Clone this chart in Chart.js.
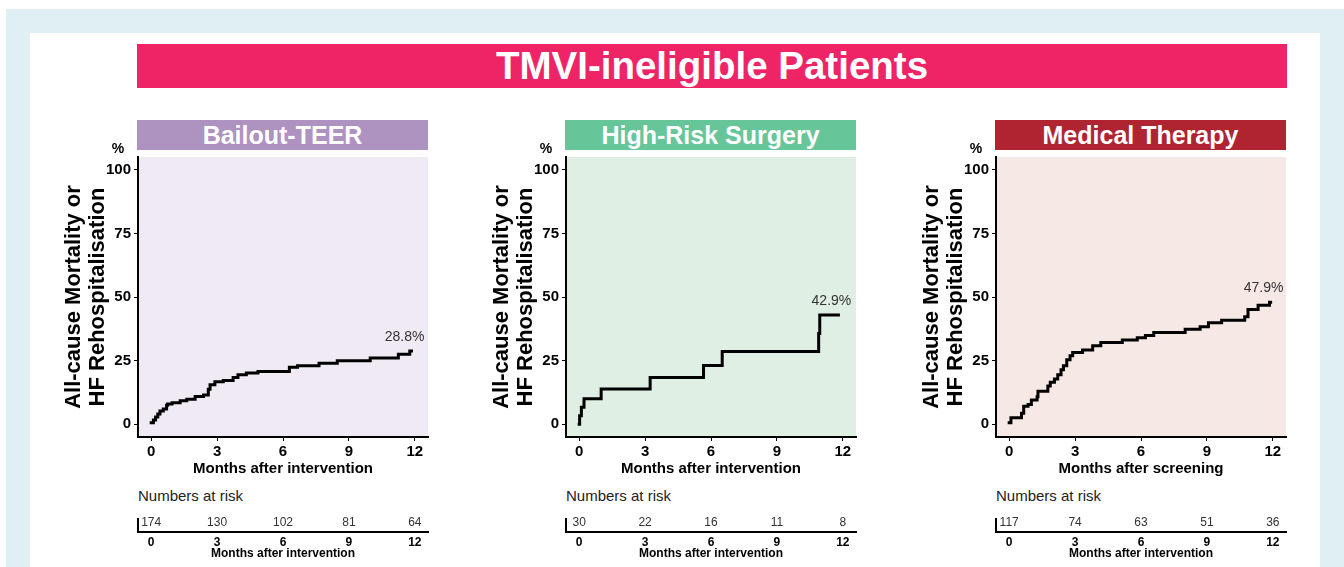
<!DOCTYPE html>
<html>
<head>
<meta charset="utf-8">
<script src="https://cdn.jsdelivr.net/npm/chart.js@4.4.1/dist/chart.umd.min.js"></script>
<style>
  html, body { margin:0; padding:0; background:#fff; }
  body { width:1344px; height:567px; position:relative; overflow:hidden; font-family:"Liberation Sans", Arial, sans-serif; }
  .abs { position:absolute; }
  #outer { left:6px; top:9px; right:0; bottom:0; background:#dfeff4; }
  #inner { left:30px; top:33px; width:1290px; bottom:0; background:#fff; }
  #banner { left:137px; top:44px; width:1150px; height:44px; background:#ee2467; color:#fff; font-weight:bold; font-size:38.5px; line-height:44px; text-align:center; }
  .hdr { top:120px; width:291px; height:30px; color:#fff; font-weight:bold; font-size:25px; line-height:31px; text-align:center; }
  .nar { top:486px; font-size:15px; color:#222; line-height:20px; }
  canvas { position:absolute; }
</style>
</head>
<body>
<div id="outer" class="abs"></div>
<div id="inner" class="abs"></div>
<div id="banner" class="abs"></div>
<div id="root"></div>
<script>
// ---------- data ----------
const mainTitle = 'TMVI-ineligible Patients';
const panelTitles = ['Bailout-TEER', 'High-Risk Surgery', 'Medical Therapy'];
const xAxisTitles = ['Months after intervention', 'Months after intervention', 'Months after screening'];
const riskAxisTitles = ['Months after intervention', 'Months after intervention', 'Months after intervention'];
const yAxisTitle = ['All-cause Mortality or', 'HF Rehospitalisation'];
const xTicks = [0, 3, 6, 9, 12];
const yTicks = [0, 25, 50, 75, 100];
const riskTimes = [0, 3, 6, 9, 12];

const teerTimes  = [0, 0.1, 0.2, 0.3, 0.4, 0.55, 0.7, 0.75, 0.95, 1.32, 1.62, 2.0, 2.38, 2.6, 2.68, 2.9, 3.28, 3.73, 3.95, 4.33, 4.86, 6.29, 6.66, 7.64, 8.47, 9.97, 11.25, 11.77, 11.85];
const teerValues = [0.6, 1.7, 2.9, 4.0, 5.2, 6.0, 7.5, 8.0, 8.5, 9.2, 9.8, 10.9, 11.5, 13.8, 15.5, 16.7, 17.2, 18.4, 19.5, 20.1, 20.7, 22.4, 23.0, 24.0, 25.0, 26.0, 27.5, 28.8, 28.8];

const surgeryTimes  = [0, 0.02, 0.1, 0.22, 1.0, 3.23, 5.66, 6.51, 10.9, 10.95, 11.8];
const surgeryValues = [0, 3.3, 6.7, 10.0, 13.9, 18.4, 23.1, 28.6, 35.7, 42.9, 42.9];

const medicalTimes  = [0, 0.08, 0.56, 0.66, 0.86, 1.01, 1.27, 1.31, 1.76, 1.87, 2.06, 2.21, 2.36, 2.47, 2.62, 2.77, 2.89, 3.34, 3.8, 4.17, 5.15, 5.83, 6.2, 6.58, 8.01, 8.69, 9.07, 9.67, 10.72, 10.87, 11.33, 11.85, 11.9];
const medicalValues = [0.6, 2.6, 4.3, 7.1, 7.8, 9.5, 10.8, 13.0, 15.0, 16.5, 17.8, 19.5, 21.4, 23.0, 25.3, 26.9, 28.2, 29.2, 30.8, 32.1, 33.1, 34.0, 34.9, 36.1, 37.3, 38.3, 39.9, 40.9, 42.2, 45.1, 46.8, 47.9, 47.9];

const endLabels = ['28.8%', '42.9%', '47.9%'];
const teerAtRisk    = [174, 130, 102, 81, 64];
const surgeryAtRisk = [30, 22, 16, 11, 8];
const medicalAtRisk = [117, 74, 63, 51, 36];

// ---------- styling ----------
const headerColors = ['#ae92c0', '#67c59a', '#b02432'];
const plotBgColors = ['#efeaf3', '#e0efe3', '#f6e8e5'];
const panelOffsets = [0, 428, 858];
const FONT = '"Liberation Sans", Arial, sans-serif';

const series = [
  { t: teerTimes, v: teerValues, risk: teerAtRisk },
  { t: surgeryTimes, v: surgeryValues, risk: surgeryAtRisk },
  { t: medicalTimes, v: medicalValues, risk: medicalAtRisk }
];

document.getElementById('banner').textContent = mainTitle;
const root = document.getElementById('root');

series.forEach((s, i) => {
  const off = panelOffsets[i];
  const hdr = document.createElement('div');
  hdr.className = 'abs hdr';
  hdr.style.left = (137 + off) + 'px';
  hdr.style.background = headerColors[i];
  hdr.textContent = panelTitles[i];
  root.appendChild(hdr);

  const nar = document.createElement('div');
  nar.className = 'abs nar';
  nar.style.left = (138 + off) + 'px';
  nar.textContent = 'Numbers at risk';
  root.appendChild(nar);

  // main KM chart
  const c = document.createElement('canvas');
  c.width = 390; c.height = 340;
  c.style.left = (50 + off) + 'px'; c.style.top = '140px';
  c.style.width = '390px'; c.style.height = '340px';
  root.appendChild(c);

  const bgPlugin = {
    id: 'bg' + i,
    beforeDraw(chart) {
      const { ctx, chartArea: a } = chart;
      ctx.save();
      ctx.fillStyle = plotBgColors[i];
      ctx.fillRect(a.left, a.top, a.right - a.left, a.bottom - a.top);
      ctx.restore();
    },
    afterDraw(chart) {
      const { ctx, chartArea: a, scales } = chart;
      ctx.save();
      ctx.fillStyle = '#000';
      ctx.font = 'bold 14px ' + FONT;
      ctx.textAlign = 'center';
      ctx.textBaseline = 'middle';
      ctx.fillText('%', a.left - 20, a.top - 8);
      const n = s.t.length - 1;
      const px = scales.x.getPixelForValue(s.t[n]);
      const py = scales.y.getPixelForValue(s.v[n]);
      ctx.fillStyle = '#333';
      ctx.font = '14px ' + FONT;
      ctx.fillText(endLabels[i], px - 7, py - 14);
      ctx.restore();
    }
  };

  new Chart(c, {
    type: 'line',
    data: {
      datasets: [{
        data: s.t.map((t, k) => ({ x: t, y: s.v[k] })),
        borderColor: '#000',
        borderWidth: 3,
        pointRadius: 0,
        fill: false,
        stepped: true,
        borderCapStyle: 'square'
      }]
    },
    options: {
      responsive: false,
      animation: false,
      devicePixelRatio: 1,
      layout: { padding: { top: 17, right: 12, left: 0, bottom: 0 } },
      plugins: { legend: { display: false }, tooltip: { enabled: false } },
      scales: {
        x: {
          type: 'linear', min: -0.6, max: 12.6,
          afterBuildTicks: sc => { sc.ticks = xTicks.map(v => ({ value: v })); },
          afterFit: sc => { sc.height = 43; },
          grid: { drawOnChartArea: false, drawTicks: true, tickLength: 4, color: '#000' },
          border: { display: true, color: '#000', width: 2 },
          ticks: { color: '#000', padding: 2, maxRotation: 0, font: { family: FONT, size: 15, weight: 'bold' } },
          title: { display: true, text: xAxisTitles[i], color: '#000', padding: { top: 0, bottom: 2 }, font: { family: FONT, size: 15, weight: 'bold', lineHeight: 1.2 } }
        },
        y: {
          type: 'linear', min: -5, max: 105,
          afterBuildTicks: sc => { sc.ticks = yTicks.map(v => ({ value: v })); },
          afterFit: sc => { sc.width = 88; },
          grid: { drawOnChartArea: false, drawTicks: true, tickLength: 4, color: '#000' },
          border: { display: true, color: '#000', width: 2 },
          ticks: { color: '#000', padding: 3, font: { family: FONT, size: 15, weight: 'bold' } },
          title: { display: true, text: yAxisTitle, color: '#000', padding: { top: 12, bottom: 0 }, font: { family: FONT, size: 22, weight: 'bold', lineHeight: 1.08 } }
        }
      }
    },
    plugins: [bgPlugin]
  });

  // numbers-at-risk chart
  const r = document.createElement('canvas');
  r.width = 390; r.height = 62;
  r.style.left = (50 + off) + 'px'; r.style.top = '505px';
  r.style.width = '390px'; r.style.height = '62px';
  root.appendChild(r);

  const riskPlugin = {
    id: 'risk' + i,
    afterDraw(chart) {
      const { ctx, scales } = chart;
      ctx.save();
      ctx.fillStyle = '#333';
      ctx.font = '12px ' + FONT;
      ctx.textAlign = 'center';
      ctx.textBaseline = 'middle';
      riskTimes.forEach((t, k) => {
        ctx.fillText(String(s.risk[k]), scales.x.getPixelForValue(t), scales.y.getPixelForValue(0.72));
      });
      ctx.restore();
    }
  };

  new Chart(r, {
    type: 'line',
    data: { datasets: [{ data: [], pointRadius: 0 }] },
    options: {
      responsive: false,
      animation: false,
      devicePixelRatio: 1,
      layout: { padding: { top: 14, right: 12, left: 0, bottom: 0 } },
      plugins: { legend: { display: false }, tooltip: { enabled: false } },
      scales: {
        x: {
          type: 'linear', min: -0.6, max: 12.6,
          afterBuildTicks: sc => { sc.ticks = riskTimes.map(v => ({ value: v })); },
          afterFit: sc => { sc.height = 35; },
          grid: { display: false, drawTicks: false, tickLength: 0 },
          border: { display: true, color: '#000', width: 2 },
          ticks: { color: '#000', padding: 3, maxRotation: 0, font: { family: FONT, size: 12, weight: 'bold' } },
          title: { display: true, text: riskAxisTitles[i], color: '#000', padding: { top: 0, bottom: 6 }, font: { family: FONT, size: 12, weight: 'bold', lineHeight: 1.2 } }
        },
        y: {
          type: 'linear', min: 0, max: 1,
          afterFit: sc => { sc.width = 88; },
          grid: { display: false, drawTicks: false },
          border: { display: true, color: '#000', width: 2 },
          ticks: { display: false }
        }
      }
    },
    plugins: [riskPlugin]
  });
});
</script>
</body>
</html>
